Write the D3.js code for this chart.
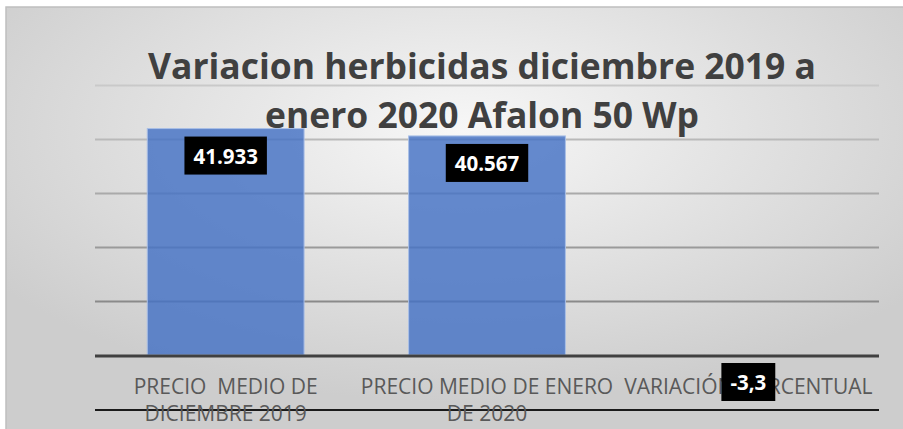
<!DOCTYPE html>
<html>
<head>
<meta charset="utf-8">
<script src="https://cdn.jsdelivr.net/npm/d3@7"></script>
<style>
  html, body { margin: 0; padding: 0; background: #ffffff; }
  svg { display: block; }
</style>
</head>
<body>
<svg id="chart" width="903" height="429"></svg>
<script>
// ---- data ----
const titleLines = ["Variacion herbicidas diciembre 2019 a", "enero 2020 Afalon 50 Wp"];
const categories = ["PRECIO  MEDIO DE DICIEMBRE 2019", "PRECIO MEDIO DE ENERO DE 2020", "VARIACIÓN PORCENTUAL"];
const categoryLines = [["PRECIO  MEDIO DE", "DICIEMBRE 2019"], ["PRECIO MEDIO DE ENERO", "DE 2020"], ["VARIACIÓN PORCENTUAL"]];
const values = [41.933, 40.567, -3.3];
const valueLabels = ["41.933", "40.567", "-3,3"];
const yTicks = [10, 20, 30, 40, 50];

// ---- layout ----
const W = 903, H = 429;
const plot = { left: 95, right: 879, top: 85, bottom: 355 };

const svg = d3.select("#chart");
const defs = svg.append("defs");

const bg = defs.append("radialGradient").attr("id", "bgGrad")
  .attr("cx", "50%").attr("cy", "28%").attr("r", "62%");
bg.append("stop").attr("offset", "0%").attr("stop-color", "#f7f7f7");
bg.append("stop").attr("offset", "100%").attr("stop-color", "#cdcdcd");

// chart area background and frame
svg.append("rect").attr("x", 6).attr("y", 7).attr("width", W + 10).attr("height", H + 10)
  .attr("fill", "url(#bgGrad)").attr("stroke", "#bfbfbf").attr("stroke-width", 1.5);

// scales
const x = d3.scaleBand().domain(categories).range([plot.left, plot.right]).paddingInner(0.4).paddingOuter(0.2);
const y = d3.scaleLinear().domain([0, 50]).range([plot.bottom, plot.top]);

// gridlines via axis
const gridColor = d3.scaleLinear().domain([50, 10]).range(["#c9c9c9", "#8a8a8a"]);
const grid = svg.append("g").attr("transform", `translate(${plot.left},0)`)
  .call(d3.axisLeft(y).tickValues(yTicks).tickSize(-(plot.right - plot.left)).tickFormat(""));
grid.select(".domain").remove();
grid.selectAll(".tick line").attr("stroke", d => gridColor(d)).attr("stroke-width", 2);

// bars
svg.append("g").selectAll("rect").data(values).join("rect")
  .attr("x", (d, i) => x(categories[i]))
  .attr("width", x.bandwidth())
  .attr("y", d => y(Math.max(0, d)))
  .attr("height", d => Math.abs(y(Math.max(0, d)) - y(0)))
  .attr("fill", "#4472c4").attr("fill-opacity", 0.82)
  .attr("stroke", "#a9bfe6").attr("stroke-width", 1);

// baseline axis
svg.append("line").attr("x1", plot.left).attr("x2", plot.right)
  .attr("y1", y(0) + 1).attr("y2", y(0) + 1)
  .attr("stroke", "#404040").attr("stroke-width", 3);

// extra line below first category label line
svg.append("line").attr("x1", plot.left).attr("x2", plot.right)
  .attr("y1", 410).attr("y2", 410)
  .attr("stroke", "#1a1a1a").attr("stroke-width", 2);

// category labels
const catG = svg.append("g");
categories.forEach((c, i) => {
  const cx = x(c) + x.bandwidth() / 2;
  const t = catG.append("text").attr("x", cx).attr("y", 394)
    .attr("text-anchor", "middle")
    .attr("font-family", "'Open Sans', sans-serif").attr("font-size", 21)
    .attr("fill", "#595959").style("white-space", "pre");
  categoryLines[i].forEach((ln, j) => {
    t.append("tspan").attr("x", cx).attr("dy", j === 0 ? 0 : 27).text(ln);
  });
});

// title (condensed to match the reference's narrow face)
const titleG = svg.append("g");
const titleY = [79, 128];
const titleFs = 35;
const titleNodes = titleLines.map((ln, i) =>
  titleG.append("text").attr("x", 482).attr("y", titleY[i])
    .attr("text-anchor", "middle")
    .attr("font-family", "'Open Sans', sans-serif").attr("font-weight", 700)
    .attr("font-size", titleFs).attr("fill", "#404040").text(ln));
const ratio = 668 / titleNodes[0].node().getComputedTextLength();
titleNodes.forEach(t => {
  const w = t.node().getComputedTextLength();
  t.attr("textLength", w * ratio).attr("lengthAdjust", "spacingAndGlyphs");
});

// data labels
const lblG = svg.append("g");
values.forEach((v, i) => {
  const cx = x(categories[i]) + x.bandwidth() / 2;
  const top = y(Math.max(0, v)) + 8;
  const g = lblG.append("g");
  const txt = g.append("text").attr("x", cx).attr("y", top + 27)
    .attr("text-anchor", "middle")
    .attr("font-family", "'Open Sans', sans-serif").attr("font-weight", 700)
    .attr("font-size", 20.5).attr("fill", "#ffffff").text(valueLabels[i]);
  const tw = txt.node().getComputedTextLength();
  g.insert("rect", "text").attr("x", cx - tw / 2 - 9).attr("y", top)
    .attr("width", tw + 18).attr("height", 38).attr("fill", "#000000");
});
</script>
</body>
</html>
